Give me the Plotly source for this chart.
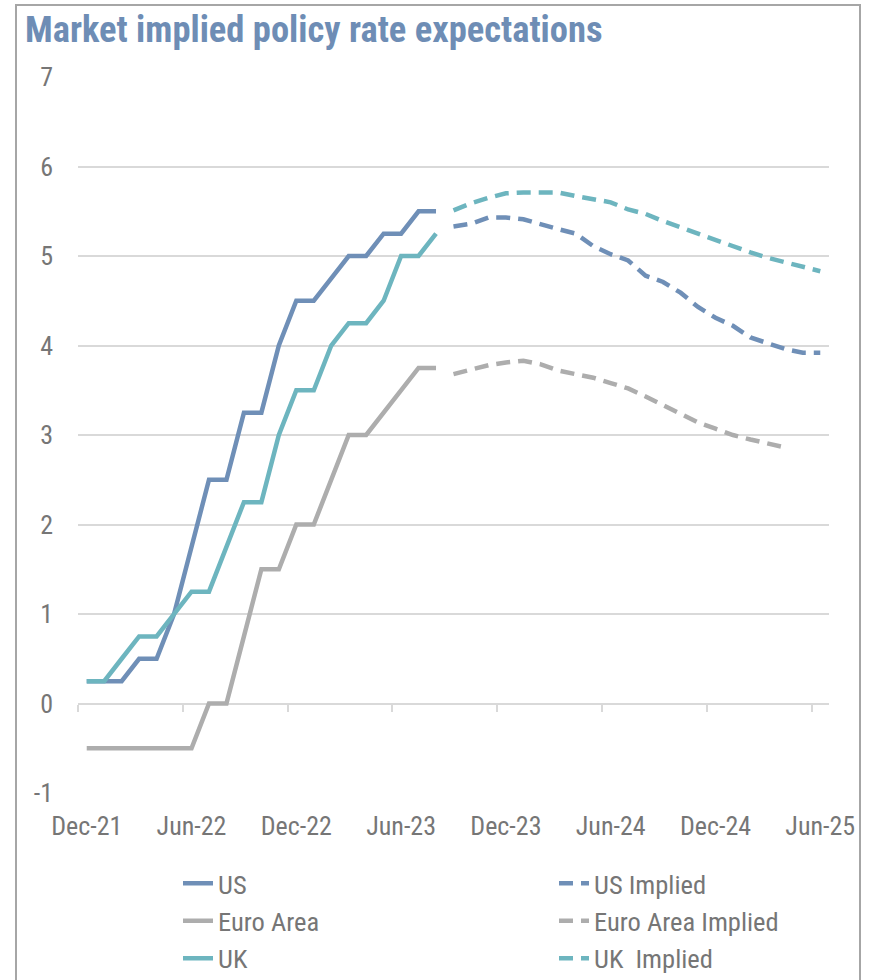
import plotly.graph_objects as go

# Monthly axis from Dec-21 to Jun-25
months = ["Dec-21", "Jan-22", "Feb-22", "Mar-22", "Apr-22", "May-22", "Jun-22",
          "Jul-22", "Aug-22", "Sep-22", "Oct-22", "Nov-22", "Dec-22",
          "Jan-23", "Feb-23", "Mar-23", "Apr-23", "May-23", "Jun-23",
          "Jul-23", "Aug-23", "Sep-23", "Oct-23", "Nov-23", "Dec-23",
          "Jan-24", "Feb-24", "Mar-24", "Apr-24", "May-24", "Jun-24",
          "Jul-24", "Aug-24", "Sep-24", "Oct-24", "Nov-24", "Dec-24",
          "Jan-25", "Feb-25", "Mar-25", "Apr-25", "May-25", "Jun-25"]
tick_labels = ["Dec-21", "Jun-22", "Dec-22", "Jun-23", "Dec-23", "Jun-24", "Dec-24", "Jun-25"]
y_ticks = [-1, 0, 1, 2, 3, 4, 5, 6, 7]
y_tick_labels = ["-1", "0", "1", "2", "3", "4", "5", "6", "7"]

# Policy rates, Dec-21 .. Aug-23
us_rate = [0.25, 0.25, 0.25, 0.5, 0.5, 1.0, 1.75, 2.5, 2.5, 3.25, 3.25, 4.0, 4.5,
           4.5, 4.75, 5.0, 5.0, 5.25, 5.25, 5.5, 5.5]
euro_rate = [-0.5, -0.5, -0.5, -0.5, -0.5, -0.5, -0.5, 0.0, 0.0, 0.75, 1.5, 1.5, 2.0,
             2.0, 2.5, 3.0, 3.0, 3.25, 3.5, 3.75, 3.75]
uk_rate = [0.25, 0.25, 0.5, 0.75, 0.75, 1.0, 1.25, 1.25, 1.75, 2.25, 2.25, 3.0, 3.5,
           3.5, 4.0, 4.25, 4.25, 4.5, 5.0, 5.0, 5.25]

# Market implied paths, starting Sep-23
us_implied = [5.33, 5.36, 5.43, 5.43, 5.41, 5.35, 5.30, 5.25, 5.11, 5.02, 4.95, 4.78,
              4.71, 4.59, 4.43, 4.31, 4.22, 4.09, 4.02, 3.96, 3.92, 3.92]
euro_implied = [3.68, 3.73, 3.78, 3.81, 3.83, 3.79, 3.72, 3.68, 3.64, 3.58, 3.52, 3.43,
                3.33, 3.24, 3.14, 3.07, 3.00, 2.95, 2.90, 2.86]
uk_implied = [5.51, 5.59, 5.65, 5.70, 5.71, 5.71, 5.71, 5.67, 5.63, 5.60, 5.52, 5.47,
              5.39, 5.32, 5.25, 5.17, 5.10, 5.04, 4.98, 4.93, 4.87, 4.83]

implied_start = months.index("Sep-23")

BLUE = "#6F8FB7"
GREY = "#ADADAD"
TEAL = "#6DB5BF"
TEXT = "#767676"
GRID = "#D9D9D9"
FONT = "Roboto Condensed, Liberation Sans, sans-serif"
DASH = "14px,8px"

idx = list(range(len(months)))


def xs(start, n):
    return idx[start:start + n]


fig = go.Figure()

series = [
    ("US", us_rate, 0, BLUE, "solid", "legend"),
    ("US Implied", us_implied, implied_start, BLUE, DASH, "legend2"),
    ("Euro Area", euro_rate, 0, GREY, "solid", "legend"),
    ("Euro Area Implied", euro_implied, implied_start, GREY, DASH, "legend2"),
    ("UK", uk_rate, 0, TEAL, "solid", "legend"),
    ("UK  Implied", uk_implied, implied_start, TEAL, DASH, "legend2"),
]
for name, vals, start, color, dash, leg in series:
    fig.add_trace(go.Scatter(
        x=xs(start, len(vals)), y=vals, name=name, mode="lines",
        line=dict(color=color, width=4.5, dash=dash),
        legend=leg, hoverinfo="skip",
    ))

# Empty trace so the tick-mark axis at y = 0 gets drawn
fig.add_trace(go.Scatter(x=[], y=[], xaxis="x2", yaxis="y", showlegend=False))

xr = [-0.5, len(months) - 0.5]
tick_idx = [months.index(t) for t in tick_labels]

legend_style = dict(
    xanchor="left", y=(793 - 859.5) / 716, yanchor="top",
    orientation="v", bgcolor="rgba(0,0,0,0)", tracegroupgap=0,
    font=dict(family=FONT, size=26.5, color=TEXT), itemwidth=30,
)

fig.update_layout(
    width=869, height=980,
    margin=dict(l=78, r=40, t=77, b=187, autoexpand=False),
    paper_bgcolor="white", plot_bgcolor="white",
    font=dict(family=FONT, size=26, color=TEXT),
    title=dict(
        text="<b>Market implied policy rate expectations</b>",
        font=dict(family=FONT, size=36.5, color="#6E8DB5"),
        x=25 / 869, xref="container", xanchor="left",
        y=1 - 29 / 980, yref="container", yanchor="middle",
    ),
    xaxis=dict(
        range=xr, tickmode="array", tickvals=tick_idx, ticktext=tick_labels,
        showgrid=False, zeroline=False, showline=False, ticks="",
        ticklabelstandoff=15, tickfont=dict(family=FONT, size=26, color=TEXT),
    ),
    xaxis2=dict(
        range=xr, overlaying="x", anchor="free", position=0.125,
        tickmode="array", tickvals=[i - 0.5 for i in tick_idx],
        ticks="outside", ticklen=7, tickwidth=1.5, tickcolor=GRID,
        showticklabels=False, showgrid=False, zeroline=False, showline=False,
    ),
    yaxis=dict(
        range=[-1, 7], tickmode="array", tickvals=y_ticks, ticktext=y_tick_labels,
        showgrid=True, gridcolor=GRID, gridwidth=1.5,
        zeroline=False, showline=False, ticks="",
        ticklabelstandoff=24, tickfont=dict(family=FONT, size=26, color=TEXT),
    ),
    showlegend=True,
    legend=dict(x=(178 - 78) / 751, **legend_style),
    legend2=dict(x=(554 - 78) / 751, **legend_style),
    shapes=[dict(
        type="rect", xref="paper", yref="paper",
        x0=(16 - 78) / 751, x1=(860 - 78) / 751,
        y0=(793 - 1010) / 716, y1=(793 - 5) / 716,
        line=dict(color="#A6A6A6", width=2), fillcolor="rgba(0,0,0,0)", layer="below",
    )],
)

fig.write_html("out.html")
